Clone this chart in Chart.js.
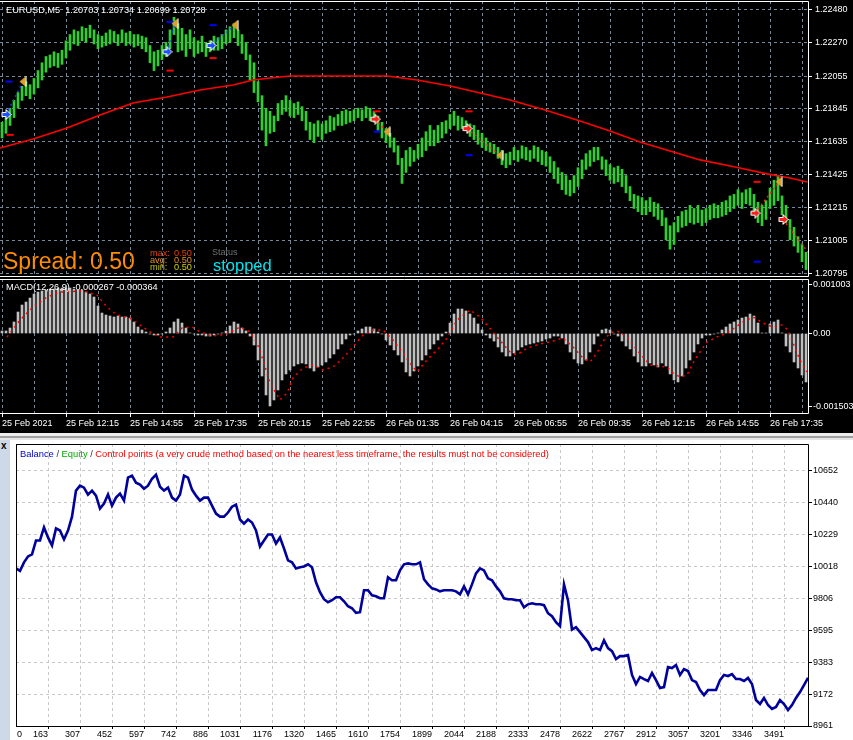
<!DOCTYPE html>
<html><head><meta charset="utf-8">
<script src="https://cdn.jsdelivr.net/npm/chart.js@4/dist/chart.umd.min.js"></script>
<style>
html,body{margin:0;padding:0;background:#fff;width:853px;height:740px;overflow:hidden;font-family:"Liberation Sans",Arial,sans-serif;}
#top{position:absolute;left:0;top:0;width:853px;height:433px;background:#000;}
canvas{position:absolute;}
.t{position:absolute;white-space:nowrap;line-height:1;}
</style></head><body>
<div id="top">
 <canvas id="price" width="853" height="278" style="left:0;top:0"></canvas>
 <canvas id="macd" width="853" height="155" style="left:0;top:278px"></canvas>
 <div class="t" style="left:6px;top:5.5px;color:#fff;font-size:9.2px">EURUSD,M5&nbsp; 1.20703 1.20734 1.20699 1.20728</div>
 <div class="t" style="left:3px;top:249.5px;color:#FF8C00;font-size:23px">Spread: 0.50</div>
 <div class="t" style="left:150px;top:248.7px;color:#E8400C;font-size:9.2px">max:</div>
 <div class="t" style="left:174px;top:248.7px;color:#E8400C;font-size:9.2px">0.50</div>
 <div class="t" style="left:150px;top:255.7px;color:#E8901A;font-size:9.2px">avg:</div>
 <div class="t" style="left:174px;top:255.7px;color:#E8901A;font-size:9.2px">0.50</div>
 <div class="t" style="left:150px;top:262.7px;color:#C0C000;font-size:9.2px">min:</div>
 <div class="t" style="left:174px;top:262.7px;color:#D0D000;font-size:9.2px">0.50</div>
 <div class="t" style="left:212px;top:248.4px;color:#707070;font-size:9px">Status</div>
 <div class="t" style="left:213px;top:256.7px;color:#00E5EE;font-size:16.5px">stopped</div>
 <div class="t" style="left:6px;top:283.2px;color:#fff;font-size:9.2px">MACD(12,26,9) -0.000267 -0.000364</div>
</div>
<div style="position:absolute;left:0;top:433px;width:853px;height:3px;background:#EEEEEE"></div>
<div style="position:absolute;left:0;top:436px;width:853px;height:1.5px;background:#A0A0A0"></div>
<div style="position:absolute;left:0;top:437.5px;width:853px;height:2.5px;background:#E6E6E6"></div>
<div style="position:absolute;left:0;top:440px;width:10px;height:300px;background:#CDD9E7"></div>
<div class="t" style="left:1px;top:441px;font-size:10px;font-weight:bold;color:#000">x</div>
<canvas id="bal" width="843" height="300" style="left:10px;top:440px"></canvas>
<div class="t" style="left:20px;top:449.5px;font-size:9.35px"><span style="color:#0000CC">Balance</span><span style="color:#333"> / </span><span style="color:#00AA00">Equity</span><span style="color:#333"> / </span><span style="color:#FF0000">Control points (a very crude method based on the nearest less timeframe, the results must not be considered)</span></div>
<script>
// ---------- DATA ----------
const TIME_LABELS = ['25 Feb 2021','25 Feb 12:15','25 Feb 14:55','25 Feb 17:35','25 Feb 20:15','25 Feb 22:55','26 Feb 01:35','26 Feb 04:15','26 Feb 06:55','26 Feb 09:35','26 Feb 12:15','26 Feb 14:55','26 Feb 17:35'];
const PRICE_TICKS = [1.22480,1.22270,1.22055,1.21845,1.21635,1.21425,1.21215,1.21005,1.20795];
// one bar per 10 minutes (high / low)
const PRICE_HIGH = [
1.2176,1.2179,1.2185,1.2190,1.2195,1.2199,1.2202,1.2200,1.2204,1.2209,
1.2214,1.2218,1.2219,1.2221,1.2220,1.2222,1.2228,1.2232,1.2235,1.2234,
1.2237,1.2236,1.2238,1.2235,1.2232,1.2231,1.2233,1.2235,1.2234,1.2232,
1.2235,1.2233,1.2234,1.2232,1.2232,1.2231,1.2230,1.2225,1.2221,1.2222,
1.2225,1.2227,1.2235,1.2243,1.2239,1.2236,1.2232,1.2235,1.2230,1.2228,
1.2231,1.2227,1.2228,1.2231,1.2230,1.2232,1.2235,1.2237,1.2239,1.2235,
1.2232,1.2227,1.2219,1.2214,1.2202,1.2193,1.2185,1.2183,1.2180,1.2188,
1.2190,1.2193,1.2190,1.2188,1.2189,1.2186,1.2183,1.2176,1.2175,1.2177,
1.2175,1.2177,1.2180,1.2179,1.2181,1.2183,1.2184,1.2183,1.2184,1.2185,
1.2184,1.2186,1.2185,1.2183,1.2180,1.2176,1.2172,1.2169,1.2166,1.2161,
1.2153,1.2158,1.2160,1.2158,1.2162,1.2166,1.2170,1.2174,1.2171,1.2174,
1.2176,1.2177,1.2181,1.2183,1.2180,1.2179,1.2177,1.2175,1.2174,1.2171,
1.2169,1.2166,1.2163,1.2162,1.2160,1.2158,1.2156,1.2157,1.2160,1.2158,
1.2161,1.2160,1.2158,1.2161,1.2160,1.2158,1.2157,1.2154,1.2151,1.2147,
1.2144,1.2142,1.2139,1.2142,1.2147,1.2152,1.2156,1.2158,1.2160,1.2160,
1.2154,1.2152,1.2149,1.2147,1.2148,1.2146,1.2142,1.2135,1.2130,1.2129,
1.2128,1.2126,1.2128,1.2125,1.2124,1.2120,1.2115,1.2110,1.2112,1.2116,
1.2119,1.2120,1.2123,1.2121,1.2123,1.2120,1.2121,1.2123,1.2124,1.2123,
1.2125,1.2126,1.2129,1.2130,1.2133,1.2131,1.2133,1.2134,1.2130,1.2125,
1.2123,1.2126,1.2134,1.2139,1.2142,1.2129,1.2123,1.2114,1.2109,1.2103,
1.2098,1.2093];
const PRICE_LOW = [
1.2166,1.2169,1.2174,1.2179,1.2185,1.2190,1.2193,1.2191,1.2194,1.2198,
1.2203,1.2208,1.2211,1.2212,1.2211,1.2213,1.2217,1.2222,1.2226,1.2225,
1.2228,1.2227,1.2230,1.2226,1.2223,1.2224,1.2225,1.2226,1.2227,1.2225,
1.2227,1.2225,1.2226,1.2224,1.2225,1.2223,1.2221,1.2214,1.2209,1.2212,
1.2216,1.2218,1.2223,1.2232,1.2221,1.2222,1.2218,1.2223,1.2218,1.2220,
1.2221,1.2218,1.2221,1.2222,1.2222,1.2223,1.2226,1.2227,1.2230,1.2225,
1.2220,1.2216,1.2203,1.2195,1.2189,1.2171,1.2161,1.2169,1.2170,1.2177,
1.2181,1.2183,1.2180,1.2179,1.2181,1.2177,1.2171,1.2165,1.2163,1.2167,
1.2165,1.2169,1.2170,1.2171,1.2174,1.2174,1.2175,1.2176,1.2177,1.2179,
1.2177,1.2179,1.2177,1.2176,1.2171,1.2166,1.2163,1.2160,1.2157,1.2149,
1.2137,1.2144,1.2148,1.2151,1.2153,1.2154,1.2158,1.2161,1.2161,1.2163,
1.2166,1.2169,1.2172,1.2174,1.2171,1.2172,1.2171,1.2167,1.2165,1.2162,
1.2160,1.2158,1.2157,1.2156,1.2153,1.2149,1.2147,1.2149,1.2152,1.2151,
1.2153,1.2152,1.2151,1.2153,1.2151,1.2149,1.2148,1.2144,1.2140,1.2137,
1.2133,1.2130,1.2129,1.2131,1.2135,1.2140,1.2146,1.2148,1.2151,1.2152,
1.2146,1.2142,1.2139,1.2137,1.2138,1.2135,1.2131,1.2126,1.2121,1.2119,
1.2117,1.2117,1.2119,1.2116,1.2114,1.2110,1.2101,1.2095,1.2098,1.2106,
1.2109,1.2110,1.2112,1.2111,1.2112,1.2110,1.2112,1.2114,1.2115,1.2115,
1.2116,1.2117,1.2119,1.2121,1.2123,1.2121,1.2124,1.2123,1.2119,1.2112,
1.2110,1.2114,1.2121,1.2123,1.2126,1.2117,1.2112,1.2101,1.2097,1.2093,
1.2087,1.2082];
// moving average (bar position in 5-min bars, value)
const MA_BAR = [0,16.5,33.5,50,66.5,83.5,100,116.5,126.5,135,145,165,193.5,208.5,225,240,255,272.5,290,305,320,335,350,367.5,383.5,395,403.5];
const MA_VALUE = [1.21596,1.21654,1.21724,1.21807,1.21883,1.21922,1.21966,1.21998,1.22030,1.22043,1.22056,1.22056,1.22056,1.22030,1.21992,1.21947,1.21903,1.21839,1.21769,1.21705,1.21635,1.21577,1.21520,1.21475,1.21431,1.21405,1.21379];
// trades
const BUY_BAR = [3,83.5,105.5];
const BUY_PRICE = [1.2181,1.2221,1.2225];
const BUY_CLOSE_BAR = [11.5,87.5,117.5];
const BUY_CLOSE_PRICE = [1.2202,1.2239,1.2238];
const SELL_BAR = [187.5,233.5,377.5,391.5];
const SELL_PRICE = [1.2178,1.2172,1.2118,1.2114];
const SELL_CLOSE_BAR = [193.5,250,389.5,404];
const SELL_CLOSE_PRICE = [1.2170,1.2155,1.2138,1.2093];
const CLOSE_MARK_BAR = [11.5,87.5,117.5,193.5,250,389.5];
const CLOSE_MARK_PRICE = [1.2202,1.2239,1.2238,1.2170,1.2155,1.2138];
const RED_DASH_BAR = [5,85,106.5,188.5,234.5,378.5];
const RED_DASH_PRICE = [1.2168,1.2209,1.2217,1.2183,1.2183,1.2138];
const BLUE_DASH_BAR = [4.5,85,106.5,188.5,234.5,378.5];
const BLUE_DASH_PRICE = [1.2202,1.2240,1.2238,1.2170,1.2155,1.2087];
// MACD
const MACD_TICKS = [0.001003,0,-0.001503];
const MACD_TICK_LABELS = ['0.001003','0.00','-0.001503'];
const MACD_HIST = [
0.000052,0.000052,0.000113,0.000237,0.000443,0.000587,0.000649,0.000731,0.000814,0.000855,
0.000876,0.000896,0.000917,0.000917,0.000937,0.000937,0.000937,0.000937,0.000917,0.000896,
0.000896,0.000855,0.000814,0.000752,0.000567,0.000422,0.000381,0.000361,0.000340,0.000361,
0.000340,0.000340,0.000319,0.000237,0.000134,0.000072,0.000031,-0.000010,-0.000031,-0.000031,
-0.000010,0.000031,0.000113,0.000237,0.000299,0.000216,0.000113,0.000010,-0.000010,-0.000031,
-0.000031,-0.000052,-0.000052,-0.000031,-0.000010,0.000010,0.000052,0.000155,0.000237,0.000196,
0.000113,0.000052,-0.000052,-0.000237,-0.000546,-0.000876,-0.001267,-0.001494,-0.001370,-0.001164,
-0.000958,-0.000834,-0.000752,-0.000670,-0.000628,-0.000608,-0.000628,-0.000711,-0.000773,-0.000690,
-0.000649,-0.000587,-0.000505,-0.000422,-0.000319,-0.000216,-0.000113,-0.000031,-0.000010,0.000052,
0.000093,0.000134,0.000134,0.000093,0.000031,-0.000010,-0.000134,-0.000237,-0.000340,-0.000443,
-0.000587,-0.000793,-0.000876,-0.000773,-0.000670,-0.000546,-0.000443,-0.000319,-0.000216,-0.000134,
-0.000052,0.000031,0.000216,0.000402,0.000505,0.000505,0.000464,0.000402,0.000319,0.000196,
0.000072,-0.000031,-0.000093,-0.000155,-0.000278,-0.000381,-0.000464,-0.000464,-0.000402,-0.000340,
-0.000278,-0.000237,-0.000216,-0.000196,-0.000175,-0.000155,-0.000113,-0.000093,-0.000052,-0.000052,
-0.000093,-0.000216,-0.000381,-0.000525,-0.000608,-0.000628,-0.000546,-0.000381,-0.000216,-0.000052,
0.000072,0.000093,0.000072,-0.000010,-0.000052,-0.000155,-0.000258,-0.000319,-0.000464,-0.000587,
-0.000670,-0.000670,-0.000608,-0.000649,-0.000690,-0.000608,-0.000670,-0.000834,-0.000958,-0.000999,
-0.000876,-0.000711,-0.000546,-0.000381,-0.000216,-0.000093,-0.000031,-0.000031,-0.000010,0.000010,
0.000072,0.000134,0.000196,0.000237,0.000278,0.000319,0.000340,0.000402,0.000361,0.000216,
0.000010,0.000010,0.000196,0.000237,0.000278,0.000010,-0.000258,-0.000381,-0.000587,-0.000711,
-0.000855,-0.000999];
const SIGNAL_BAR = [3.5,10,16.5,23.5,30,41.5,48.5,53.5,58.5,65,70,75,80,86.5,91,96,100,106.5,113.5,120,125,128.5,131.5,135,140,143.5,146.5,151.5,156.5,161.5,166.5,171.5,176.5,181.5,186.5,191.5,196.5,201.5,205,208.5,213.5,218.5,223.5,228.5,235,240,243.5,248.5,255,258.5,263.5,270,275,281.5,286.5,291.5,295,298.5,302,305,308.5,313.5,318.5,325,333.5,336.5,340,343.5,346.5,350,353.5,358.5,363.5,366.5,371.5,376.5,381.5,386.5,391,394,396.5,400,403.5];
const SIGNAL_VALUE = [-0.000072,0.000278,0.000546,0.000752,0.000855,0.000876,0.000793,0.000546,0.000381,0.000319,0.000175,0.000031,-0.000072,-0.000072,0.000113,0.000134,0.000031,-0.000052,-0.000010,0.000134,0.000031,-0.000196,-0.000546,-0.001020,-0.001370,-0.001226,-0.000917,-0.000711,-0.000649,-0.000752,-0.000690,-0.000505,-0.000278,-0.000031,0.000072,0.000072,-0.000134,-0.000402,-0.000608,-0.000793,-0.000546,-0.000340,-0.000093,0.000278,0.000484,0.000340,0.000175,-0.000072,-0.000381,-0.000443,-0.000299,-0.000216,-0.000175,-0.000093,-0.000278,-0.000505,-0.000587,-0.000402,-0.000134,0.000010,0.000052,-0.000072,-0.000340,-0.000649,-0.000690,-0.000814,-0.000896,-0.000855,-0.000608,-0.000381,-0.000175,-0.000072,0.000010,0.000093,0.000237,0.000340,0.000216,0.000134,0.000175,0.000072,-0.000196,-0.000546,-0.000793];
// Balance graph
const DEAL_LABELS = ['0','163','307','452','597','742','886','1031','1176','1320','1465','1610','1754','1899','2044','2188','2333','2478','2622','2767','2912','3057','3201','3346','3491'];
const BAL_TICKS = [8961,9172,9383,9595,9806,10018,10229,10440,10652];
const BALANCE = [
10005,9989,10045,10084,10098,10190,10190,10276,10210,10157,
10270,10256,10197,10256,10348,10520,10553,10540,10494,10520,
10487,10401,10434,10494,10421,10474,10500,10454,10606,10619,
10573,10560,10533,10553,10599,10626,10546,10520,10540,10474,
10454,10494,10619,10606,10527,10487,10454,10474,10474,10421,
10368,10348,10348,10375,10414,10428,10329,10302,10329,10309,
10256,10150,10190,10230,10230,10170,10210,10137,10058,10045,
10005,10012,10018,10032,10012,9913,9847,9801,9781,9794,
9814,9814,9787,9754,9741,9711,9715,9860,9860,9827,
9820,9807,9807,9946,9926,9926,9992,10032,10038,10032,
10032,10045,9933,9899,9873,9866,9853,9860,9860,9860,
9853,9833,9886,9833,9899,9972,10005,9992,9939,9926,
9886,9853,9807,9801,9801,9794,9794,9747,9767,9774,
9767,9767,9761,9708,9688,9649,9622,9899,9793,9600,
9616,9583,9550,9517,9464,9477,9464,9529,9477,9457,
9404,9424,9424,9431,9299,9239,9286,9272,9259,9312,
9265,9213,9219,9351,9345,9365,9299,9338,9325,9265,
9252,9199,9166,9199,9199,9199,9265,9299,9292,9305,
9272,9272,9259,9279,9239,9133,9107,9147,9100,9074,
9087,9133,9107,9067,9100,9147,9186,9232,9280];

// ---------- STYLE HELPERS ----------
Chart.defaults.font.family = '"Liberation Sans", Arial, sans-serif';
Chart.defaults.animation = false;
const GRID = '#778899';
const NONE = 'rgba(0,0,0,0)';

const framePlugin = {
  id: 'frame',
  afterDraw(chart, args, o) {
    if (!o || !o.color) return;
    const a = chart.chartArea, ctx = chart.ctx;
    const l = Math.round(a.left) + 0.5, r = Math.round(a.right) + 0.5;
    const t = Math.round(a.top) + 0.5, b = Math.round(a.bottom) + 0.5;
    ctx.save();
    ctx.strokeStyle = o.color; ctx.lineWidth = 1; ctx.setLineDash([]);
    ctx.beginPath();
    const s = o.sides || 'ltrb';
    if (s.includes('t')) { ctx.moveTo(a.left, t); ctx.lineTo(r, t); }
    if (s.includes('r')) { ctx.moveTo(r, t); ctx.lineTo(r, b); }
    if (s.includes('b')) { ctx.moveTo(a.left, b); ctx.lineTo(r, b); }
    if (s.includes('l')) { ctx.moveTo(l, t); ctx.lineTo(l, b); }
    ctx.stroke();
    ctx.restore();
  }
};
Chart.register(framePlugin);

function noPad(s) { s.paddingTop = 0; s.paddingBottom = 0; s.paddingLeft = 0; s.paddingRight = 0; }

function arrowImg(fill) {
  const c = document.createElement('canvas'); c.width = 11; c.height = 11;
  const g = c.getContext('2d');
  g.beginPath();
  g.moveTo(1.5,3.5); g.lineTo(5.5,3.5); g.lineTo(5.5,0.5); g.lineTo(10.5,5.5);
  g.lineTo(5.5,10.5); g.lineTo(5.5,7.5); g.lineTo(1.5,7.5); g.closePath();
  g.fillStyle = fill; g.fill();
  g.strokeStyle = '#fff'; g.lineWidth = 1; g.stroke();
  return c;
}
function closeImg() {
  const c = document.createElement('canvas'); c.width = 8; c.height = 11;
  const g = c.getContext('2d');
  g.beginPath(); g.moveTo(6.5,0.5); g.lineTo(0.5,5.5); g.lineTo(6.5,10.5); g.closePath();
  g.fillStyle = '#D9A030'; g.fill();
  g.strokeStyle = '#fff'; g.lineWidth = 1.2;
  g.beginPath(); g.moveTo(7,0.5); g.lineTo(7,10.5); g.stroke();
  return c;
}
const gridTicks = () => { const t = []; for (let v = 1; v <= 404; v += 16) t.push({value: v}); return t; };
const pts = (xs, ys) => xs.map((x, i) => ({x, y: ys[i]}));

// ---------- PRICE CHART ----------
const tradeLines = [];
BUY_BAR.forEach((b, i) => tradeLines.push({type:'line', data:[{x:b,y:BUY_PRICE[i]},{x:BUY_CLOSE_BAR[i],y:BUY_CLOSE_PRICE[i]}], borderColor:'#2040FF', borderWidth:1.3, borderDash:[2,3], pointRadius:0, order:2}));
SELL_BAR.forEach((b, i) => tradeLines.push({type:'line', data:[{x:b,y:SELL_PRICE[i]},{x:SELL_CLOSE_BAR[i],y:SELL_CLOSE_PRICE[i]}], borderColor:'#FF2020', borderWidth:1.3, borderDash:[2,3], pointRadius:0, order:2}));

new Chart(document.getElementById('price'), {
  type: 'bar',
  data: { datasets: [
    {type:'scatter', data: pts(BUY_BAR, BUY_PRICE), pointStyle: arrowImg('#1E50FF'), pointRadius:5, order:0},
    {type:'scatter', data: pts(SELL_BAR, SELL_PRICE), pointStyle: arrowImg('#FF1E1E'), pointRadius:5, order:0},
    {type:'scatter', data: pts(CLOSE_MARK_BAR, CLOSE_MARK_PRICE), pointStyle: closeImg(), pointRadius:5, order:0},
    {type:'scatter', data: pts(RED_DASH_BAR, RED_DASH_PRICE), pointStyle:'line', pointRadius:3.5, pointBorderWidth:2, borderColor:'#FF0000', backgroundColor:'#FF0000', order:1},
    {type:'scatter', data: pts(BLUE_DASH_BAR, BLUE_DASH_PRICE), pointStyle:'line', pointRadius:3.5, pointBorderWidth:2, borderColor:'#0000FF', backgroundColor:'#0000FF', order:1},
    ...tradeLines,
    {type:'line', data: pts(MA_BAR, MA_VALUE), borderColor:'#FF0000', borderWidth:1.6, pointRadius:0, tension:0, order:3},
    {type:'bar', data: PRICE_HIGH.map((h, j) => ({x: 2*j + 1, y: [PRICE_LOW[j], h]})), backgroundColor:'#32CD32', borderWidth:0, barThickness:2, order:4}
  ]},
  options: {
    responsive:false, animation:false,
    layout:{autoPadding:false, padding:{top:1, bottom:2, left:0, right:0}},
    plugins:{legend:{display:false}, tooltip:{enabled:false}, frame:{color:'#fff', sides:'trb'}},
    scales:{
      x:{type:'linear', min:0, max:404, offset:false,
         afterBuildTicks: s => { s.ticks = gridTicks(); },
         afterFit: s => { s.height = 0; noPad(s); },
         ticks:{display:false},
         grid:{color:GRID, drawTicks:false, offset:false, lineWidth:1},
         border:{display:false, dash:[3,3]}},
      y:{type:'linear', position:'right', min:1.2077904, max:1.2253425,
         afterBuildTicks: s => { s.ticks = PRICE_TICKS.map(v => ({value: v})); },
         afterFit: s => { s.width = 45; noPad(s); },
         ticks:{color:'#fff', font:{size:9}, padding:3, callback: v => Number(v).toFixed(5)},
         grid:{color:GRID, tickColor:'#fff', tickLength:4, lineWidth:1},
         border:{display:false, dash:[3,3]}}
    }
  }
});

// ---------- MACD CHART ----------
new Chart(document.getElementById('macd'), {
  type: 'bar',
  data: { datasets: [
    {type:'line', data: pts(SIGNAL_BAR, SIGNAL_VALUE), borderColor:'#FF0000', borderWidth:1.5, borderDash:[2,4], pointRadius:0, tension:0, order:0},
    {type:'bar', data: MACD_HIST.map((v, j) => ({x: 2*j + 1, y: v})), backgroundColor:'#C0C0C0', borderWidth:0, barThickness:2, order:1}
  ]},
  options: {
    responsive:false, animation:false,
    layout:{autoPadding:false, padding:{top:1, bottom:0, left:0, right:0}},
    plugins:{legend:{display:false}, tooltip:{enabled:false}, frame:{color:'#fff', sides:'trb'}},
    scales:{
      x:{type:'linear', min:0, max:404, offset:false,
         afterBuildTicks: s => { s.ticks = gridTicks(); },
         afterFit: s => { s.height = 20; noPad(s); },
         ticks:{autoSkip:false, maxRotation:0, minRotation:0, align:'start', color:'#fff', font:{size:9}, padding:1,
                callback: (v, i) => (i % 2 === 0 && TIME_LABELS[i/2]) ? TIME_LABELS[i/2] : ''},
         grid:{color:GRID, offset:false, drawTicks:true, tickLength:4, lineWidth:1,
               tickColor: c => (c.index % 2 === 0 && c.index/2 < TIME_LABELS.length) ? '#fff' : NONE},
         border:{display:false, dash:[3,3]}},
      y:{type:'linear', position:'right', min:-0.001639, max:0.0011237,
         afterBuildTicks: s => { s.ticks = MACD_TICKS.map(v => ({value: v})); },
         afterFit: s => { s.width = 45; noPad(s); },
         ticks:{color:'#fff', font:{size:9}, padding:1, callback: (v, i) => MACD_TICK_LABELS[i]},
         grid:{drawOnChartArea:false, tickColor:'#fff', tickLength:4},
         border:{display:false}}
    }
  }
});

// ---------- BALANCE CHART ----------
new Chart(document.getElementById('bal'), {
  type: 'line',
  data: { datasets: [
    {data: BALANCE.map((v, i) => ({x: i, y: v})), borderColor:'#00009C', borderWidth:2.6, pointRadius:0, tension:0}
  ]},
  options: {
    responsive:false, animation:false,
    layout:{autoPadding:false, padding:{left:6, top:4, right:0, bottom:0}},
    plugins:{legend:{display:false}, tooltip:{enabled:false}, frame:{color:'#000', sides:'ltrb'}},
    scales:{
      x:{type:'linear', min:0, max:198, offset:false,
         afterBuildTicks: s => { s.ticks = DEAL_LABELS.map((l, k) => ({value: k === 0 ? 1.5 : 8*k})); },
         afterFit: s => { s.height = 14; noPad(s); },
         ticks:{autoSkip:false, maxRotation:0, minRotation:0, align:'end', color:'#000', font:{size:9}, padding:0,
                callback: (v, i) => DEAL_LABELS[i]},
         grid:{color: c => c.index === 0 ? NONE : '#C8C8C8', tickLength:3, tickColor: c => c.index === 0 ? NONE : '#000'},
         border:{display:false, dash:[3,3]}},
      y:{type:'linear', position:'right', min:8961, max:10829,
         afterBuildTicks: s => { s.ticks = BAL_TICKS.map(v => ({value: v})); },
         afterFit: s => { s.width = 45; noPad(s); },
         ticks:{color:'#000', font:{size:9}, padding:1, callback: v => String(v)},
         grid:{color: c => c.index === 0 ? NONE : '#C8C8C8', tickLength:4, tickColor:'#000'},
         border:{display:false, dash:[3,3]}}
    }
  }
});
</script>
</body></html>
